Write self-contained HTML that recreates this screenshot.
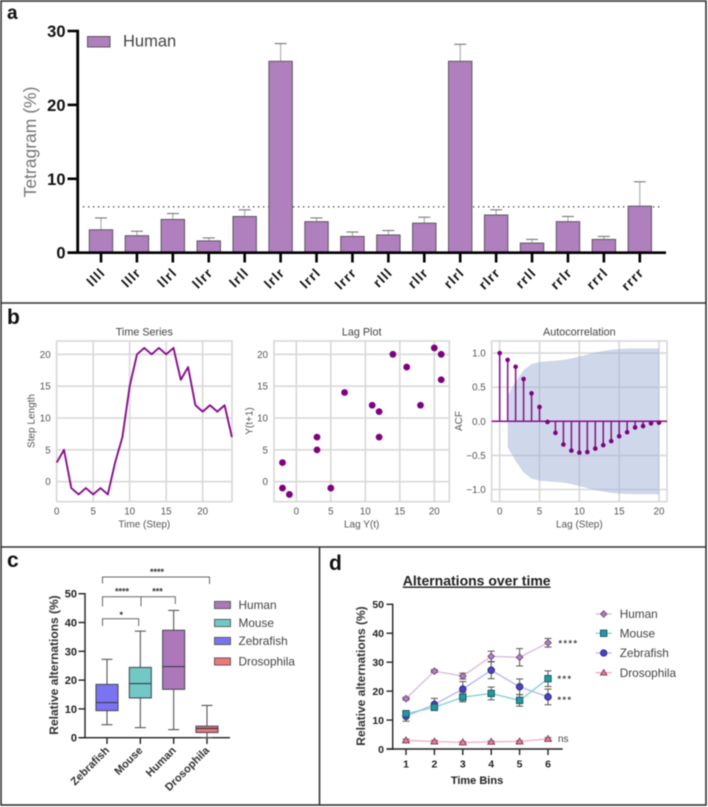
<!DOCTYPE html>
<html lang="en">
<head>
<meta charset="utf-8">
<title>Tetragram and alternation figure</title>
<style>
html,body{margin:0;padding:0;background:#fff;width:708px;height:807px;overflow:hidden}
svg{display:block;filter:blur(0.45px)}
text{font-family:"Liberation Sans",sans-serif}
</style>
</head>
<body>
<svg id="fig" width="708" height="807" viewBox="0 0 708 807" xmlns="http://www.w3.org/2000/svg">
  <rect x="0" y="0" width="708" height="807" fill="#fff"/>
  <g id="frames" stroke="#333" fill="none">
    <rect x="1" y="1" width="705" height="804" stroke-width="1.6"/>
    <line x1="1" y1="303" x2="706" y2="303" stroke-width="1.6"/>
    <line x1="1" y1="547" x2="706" y2="547" stroke-width="1.6"/>
    <line x1="319.5" y1="547" x2="319.5" y2="805" stroke-width="1.6"/>
  </g>
  <g id="letters" font-weight="700" fill="#111">
    <text x="7" y="19" font-size="19">a</text>
    <text x="7" y="324" font-size="21">b</text>
    <text x="7" y="567" font-size="21">c</text>
    <text x="329" y="570" font-size="21">d</text>
  </g>
  <g id="panelA"></g>
  <g id="panelB1"></g>
  <g id="panelB2"></g>
  <g id="panelB3"></g>
  <g id="panelC"></g>
  <g id="panelD"></g>
</svg>
<script>
/* Panel a data */
const tetraCategories = ['llll','lllr','llrl','llrr','lrll','lrlr','lrrl','lrrr','rlll','rllr','rlrl','rlrr','rrll','rrlr','rrrl','rrrr'];
const tetraValues = [3.1,2.3,4.5,1.6,4.9,25.9,4.2,2.2,2.4,4.0,25.9,5.1,1.3,4.2,1.8,6.3];
const tetraErrors = [1.6,0.6,0.8,0.4,0.9,2.4,0.5,0.6,0.6,0.8,2.3,0.7,0.5,0.7,0.4,3.3];
const tetraTicks = [0,10,20,30];
const chanceLevel = [6.2];

/* Panel b data */
const seriesSteps = [3,5,-1,-2,-1,-2,-1,-2,3,7,15,20,21,20,21,20,21,16,18,12,11,12,11,12,7];
const seriesXTicks = [0,5,10,15,20];
const seriesYTicks = [0,5,10,15,20];
const lagX = [-2,-2,-1,3,3,5,7,11,12,12,14,16,18,20,21,21];
const lagY = [3,-1,-2,7,5,-1,14,12,11,7,20,18,12,21,20,16];
const acfValues = [1.0,0.9,0.8,0.62,0.41,0.21,-0.01,-0.17,-0.34,-0.43,-0.46,-0.45,-0.4,-0.35,-0.29,-0.22,-0.16,-0.09,-0.07,-0.03,-0.02];
const acfBand = [0.38,0.58,0.75,0.84,0.87,0.88,0.89,0.9,0.92,0.95,0.98,1.01,1.03,1.05,1.06,1.065,1.07,1.07,1.07,1.07];
const acfXTicks = [0,5,10,15,20];
const acfYTicks = [-1,-0.5,0,0.5,1];

/* Panel c data */
const boxCategories = ['Zebrafish','Mouse','Human','Drosophila'];
const boxMin = [4.5,3.5,2.8,0];
const boxQ1 = [9.4,13.8,16.8,1.8];
const boxMedian = [12.2,18.8,24.7,3.2];
const boxQ3 = [18.5,24.4,37.3,4];
const boxMax = [27.2,37,44.2,11.2];
const boxFills = ['#7b74f2','#72c8c4','#ac78ba','#f0767c'];
const boxTicks = [0,10,20,30,40,50];
const boxLegend = ['Human','Mouse','Zebrafish','Drosophila'];
const boxLegendFills = ['#ac78ba','#72c8c4','#7b74f2','#f0767c'];

/* Panel d data */
const timeBins = [1,2,3,4,5,6];
const humanMeans = [17.4,26.9,25.2,32,31.7,36.7];
const humanErrors = [0.5,0.5,1,1.8,3,1.5];
const mouseMeans = [12.2,14.4,17.9,19.2,16.8,24.3];
const mouseErrors = [1,1,1.6,2.2,2,2.7];
const zebrafishMeans = [11.3,15.4,20.7,27.2,21.5,18];
const zebrafishErrors = [1.7,2.1,2.6,2.9,2.7,2.7];
const drosophilaMeans = [3,2.6,2.3,2.5,2.6,3.5];
const drosophilaErrors = [0.4,0.4,0.3,0.3,0.3,0.4];
const timeTicks = [0,10,20,30,40,50];

const NS = 'http://www.w3.org/2000/svg';
function mk(parent, tag, props, content) {
  const e = document.createElementNS(NS, tag);
  for (const k in props) e.setAttribute(k, props[k]);
  if (content !== undefined) e.textContent = content;
  parent.appendChild(e);
  return e;
}
function line(parent, x1, y1, x2, y2, stroke, w, extra) {
  return mk(parent, 'line', Object.assign({x1, y1, x2, y2, stroke, 'stroke-width': w}, extra || {}));
}

/* ---------- Panel a ---------- */
(function () {
  const g = document.getElementById('panelA');
  const x = i => 101 + i * 35.92;
  const y = v => 252.7 - v * 7.39;
  const refLine = line(g, 83, y(chanceLevel[0]), 660, y(chanceLevel[0]), '#333', 1.3, {'stroke-dasharray': '1.3 3.7'});
  
  
  tetraCategories.forEach((c, i) => {
    const err = line(g, x(i), y(tetraValues[i]), x(i), y(tetraValues[i] + tetraErrors[i]), '#aaa', 1.1);
    
    
    const cap = line(g, x(i) - 6, y(tetraValues[i] + tetraErrors[i]), x(i) + 6, y(tetraValues[i] + tetraErrors[i]), '#777', 1.1);
    
    
    const bar = mk(g, 'rect', {x: x(i) - 11.7, y: y(tetraValues[i]), width: 23.4, height: y(0) - y(tetraValues[i]), fill: '#b07fbe', stroke: '#5c5560', 'stroke-width': 1});
    
    
    const tick = line(g, x(i), y(0), x(i), 262.5, '#000', 2.6);
    
    
    const lab = mk(g, 'text', {x: 0, y: 0, transform: `translate(${x(i) + 5},${273.5}) rotate(-45)`, 'text-anchor': 'end', 'font-size': 13.5, 'font-weight': 700, 'letter-spacing': 1.1, fill: '#111'}, c);
    
    
  });
  const yAxis = line(g, 77.7, y(30) - 1.3, 77.7, y(0) + 1.3, '#000', 2.8);
  
  
  const xAxis = line(g, 67.5, y(0), 666, y(0), '#000', 2.6);
  
  
  tetraTicks.forEach(t => {
    const tk = line(g, 67.5, y(t), 77.7, y(t), '#000', 2.6);
    
    
    const lb = mk(g, 'text', {x: 65.5, y: y(t) + 6, 'text-anchor': 'end', 'font-size': 16.5, 'font-weight': 700, fill: '#111'}, t);
    
    
  });
  const title = mk(g, 'text', {x: 0, y: 0, transform: 'translate(36,142) rotate(-90)', 'text-anchor': 'middle', 'font-size': 17.5, fill: '#777'}, 'Tetragram (%)');
  
  
  const sw = mk(g, 'rect', {x: 87.5, y: 36.5, width: 22.5, height: 10.5, fill: '#b07fbe', stroke: '#5c5560', 'stroke-width': 1});
  
  
  const lt = mk(g, 'text', {x: 123, y: 46.5, 'font-size': 16.5, fill: '#444'}, 'Human');
  
  
})();

/* ---------- Panel b shared frame ---------- */
function seabornAxes(g, o) {
  const frame = mk(g, 'rect', {x: o.left, y: 341, width: o.right - o.left, height: 160.7, fill: '#fff', stroke: '#d8d8d8', 'stroke-width': 1.6});
  
  
  o.xTicks.forEach(t => {
    const gl = line(g, o.x(t), 341, o.x(t), 501.7, '#d8d8d8', 1.6);
    
    
    const lb = mk(g, 'text', {x: o.x(t), y: 514.5, 'text-anchor': 'middle', 'font-size': 9.8, fill: '#555'}, t);
    
    
  });
  o.yTicks.forEach(t => {
    const gl = line(g, o.left, o.y(t), o.right, o.y(t), '#d8d8d8', 1.6);
    
    
    const txt = o.yFormat ? o.yFormat(t) : String(t);
    const lb = mk(g, 'text', {x: o.left - 6, y: o.y(t) + 3.5, 'text-anchor': 'end', 'font-size': 9.8, fill: '#555'}, txt);
    
    
  });
  const ti = mk(g, 'text', {x: (o.left + o.right) / 2, y: 335.5, 'text-anchor': 'middle', 'font-size': 10.8, fill: '#444'}, o.title);
  
  
  const xt = mk(g, 'text', {x: (o.left + o.right) / 2, y: 527.5, 'text-anchor': 'middle', 'font-size': 10, fill: '#555'}, o.xLabel);
  
  
  const yt = mk(g, 'text', {x: 0, y: 0, transform: `translate(${o.yLabelX},421) rotate(-90)`, 'text-anchor': 'middle', 'font-size': 10, fill: '#555'}, o.yLabel);
  
  
}

/* Time series */
(function () {
  const g = document.getElementById('panelB1');
  const x = v => 56.7 + v * 7.3;
  const y = v => 481.7 - v * 6.37;
  seabornAxes(g, {left: 56.7, right: 232, x, y, xTicks: seriesXTicks, yTicks: seriesYTicks, title: 'Time Series', xLabel: 'Time (Step)', yLabel: 'Step Length', yLabelX: 34.5});
  const pts = seriesSteps.map((v, i) => x(i) + ',' + y(v)).join(' ');
  const l = mk(g, 'polyline', {points: pts, fill: 'none', stroke: '#880e8e', 'stroke-width': 1.9, 'stroke-linejoin': 'round'});
  
  
})();

/* Lag plot */
(function () {
  const g = document.getElementById('panelB2');
  const x = v => 296.3 + v * 6.9;
  const y = v => 481.7 - v * 6.37;
  seabornAxes(g, {left: 274, right: 449.3, x, y, xTicks: seriesXTicks, yTicks: seriesYTicks, title: 'Lag Plot', xLabel: 'Lag Y(t)', yLabel: 'Y(t+1)', yLabelX: 252.5});
  lagX.forEach((v, i) => {
    const c = mk(g, 'circle', {cx: x(v), cy: y(lagY[i]), r: 3.4, fill: '#800080'});
    
    
  });
})();

/* Autocorrelation */
(function () {
  const g = document.getElementById('panelB3');
  const x = v => 499.7 + v * 7.965;
  const y = v => 421.3 - v * 68.2;
  seabornAxes(g, {left: 491.7, right: 667, x, y, xTicks: acfXTicks, yTicks: acfYTicks, title: 'Autocorrelation', xLabel: 'Lag (Step)', yLabel: 'ACF', yLabelX: 462,
    yFormat: t => (t < 0 ? '\u2212' : '') + Math.abs(t).toFixed(1)});
  const up = acfBand.map((v, i) => x(i + 1) + ',' + y(v));
  const dn = acfBand.map((v, i) => x(i + 1) + ',' + y(-v)).reverse();
  const band = mk(g, 'polygon', {points: up.concat(dn).join(' '), fill: '#9db2d6', 'fill-opacity': 0.5, stroke: 'none'});
  
  
  const base = line(g, 491.7, y(0), 667, y(0), '#880e8e', 1.5);
  
  
  acfValues.forEach((v, i) => {
    const s = line(g, x(i), y(0), x(i), y(v), '#880e8e', 1.5);
    
    
    const c = mk(g, 'circle', {cx: x(i), cy: y(v), r: 2.3, fill: '#800080'});
    
    
  });
})();

/* ---------- Panel c ---------- */
(function () {
  const g = document.getElementById('panelC');
  const x = i => 107 + i * 33.33;
  const y = v => 737.7 - v * 2.88;
  const yAxis = line(g, 85, y(50) - 0.7, 85, y(0) + 0.7, '#222', 1.4);
  
  
  const xAxis = line(g, 78.5, y(0), 230, y(0), '#222', 1.4);
  
  
  boxTicks.forEach(t => {
    const tk = line(g, 78.5, y(t), 85, y(t), '#222', 1.4);
    
    
    const lb = mk(g, 'text', {x: 77, y: y(t) + 4, 'text-anchor': 'end', 'font-size': 11, 'font-weight': 700, fill: '#222'}, t);
    
    
  });
  const title = mk(g, 'text', {x: 0, y: 0, transform: 'translate(58,665) rotate(-90)', 'text-anchor': 'middle', 'font-size': 12, 'font-weight': 700, fill: '#333'}, 'Relative alternations (%)');
  
  
  boxCategories.forEach((c, i) => {
    const tk = line(g, x(i), y(0), x(i), 744, '#222', 1.4);
    
    
    const wh = line(g, x(i), y(boxMin[i]), x(i), y(boxMax[i]), '#555', 1.1);
    
    
    const capL = line(g, x(i) - 5.5, y(boxMin[i]), x(i) + 5.5, y(boxMin[i]), '#555', 1.1);
    
    
    const capH = line(g, x(i) - 5.5, y(boxMax[i]), x(i) + 5.5, y(boxMax[i]), '#555', 1.1);
    
    
    const box = mk(g, 'rect', {x: x(i) - 11, y: y(boxQ3[i]), width: 22, height: y(boxQ1[i]) - y(boxQ3[i]), fill: boxFills[i], stroke: '#4c4c5c', 'stroke-width': 1.1});
    
    
    const med = line(g, x(i) - 11, y(boxMedian[i]), x(i) + 11, y(boxMedian[i]), '#3c3c4c', 1.2);
    
    
    const lb = mk(g, 'text', {x: 0, y: 0, transform: `translate(${x(i) + 3},${751}) rotate(-45)`, 'text-anchor': 'end', 'font-size': 11, 'font-weight': 700, fill: '#333'}, c);
    
    
  });
  const bracketTop = mk(g, 'polyline', {points: '102.5,583.5 102.5,577 209.5,577 209.5,584', fill: 'none', stroke: '#666', 'stroke-width': 1});
  
  
  const bracketMid = mk(g, 'polyline', {points: '102.5,606.5 102.5,596.7 175.3,596.7 175.3,604', fill: 'none', stroke: '#666', 'stroke-width': 1});
  
  
  const bracketMidStem = line(g, 141, 596.7, 141, 606.5, '#666', 1);
  
  
  const bracketLow = mk(g, 'polyline', {points: '102.5,626 102.5,618.7 138.7,618.7 138.7,626', fill: 'none', stroke: '#666', 'stroke-width': 1});
  
  
  const s1 = mk(g, 'text', {x: 157, y: 575, 'text-anchor': 'middle', 'font-size': 9, 'font-weight': 700, fill: '#333'}, '****');
  
  
  const s2 = mk(g, 'text', {x: 122, y: 594.5, 'text-anchor': 'middle', 'font-size': 9, 'font-weight': 700, fill: '#333'}, '****');
  
  
  const s3 = mk(g, 'text', {x: 157.5, y: 594.5, 'text-anchor': 'middle', 'font-size': 9, 'font-weight': 700, fill: '#333'}, '***');
  
  
  const s4 = mk(g, 'text', {x: 121.3, y: 618, 'text-anchor': 'middle', 'font-size': 9, 'font-weight': 700, fill: '#333'}, '*');
  
  
  boxLegend.forEach((n, i) => {
    const cy = [605, 623, 641, 661.5][i];
    const sw = mk(g, 'rect', {x: 214.5, y: cy - 3.6, width: 16, height: 7.2, fill: boxLegendFills[i], stroke: '#555', 'stroke-width': 0.9});
    
    
    const lb = mk(g, 'text', {x: 238.5, y: cy + 4.2, 'font-size': 11.8, fill: '#444'}, n);
    
    
  });
})();

/* ---------- Panel d ---------- */
(function () {
  const g = document.getElementById('panelD');
  const x = v => 406 + (v - 1) * 28.4;
  const y = v => 749 - v * 2.894;
  const title = mk(g, 'text', {x: 476.7, y: 585.5, 'text-anchor': 'middle', 'font-size': 14, 'font-weight': 700, fill: '#222', 'text-decoration': 'underline'}, 'Alternations over time');
  
  
  const yAxis = line(g, 392.7, y(50) - 0.7, 392.7, y(0) + 0.7, '#222', 1.4);
  
  
  const xAxis = line(g, 386.5, y(0), 562.7, y(0), '#222', 1.4);
  
  
  timeTicks.forEach(t => {
    const tk = line(g, 386.5, y(t), 392.7, y(t), '#222', 1.4);
    
    
    const lb = mk(g, 'text', {x: 384, y: y(t) + 3.8, 'text-anchor': 'end', 'font-size': 10.5, 'font-weight': 700, fill: '#222'}, t);
    
    
  });
  timeBins.forEach(t => {
    const tk = line(g, x(t), y(0), x(t), 755, '#222', 1.4);
    
    
    const lb = mk(g, 'text', {x: x(t), y: 767.5, 'text-anchor': 'middle', 'font-size': 10.5, 'font-weight': 700, fill: '#222'}, t);
    
    
  });
  const yt = mk(g, 'text', {x: 0, y: 0, transform: 'translate(365,676) rotate(-90)', 'text-anchor': 'middle', 'font-size': 12, 'font-weight': 700, fill: '#333'}, 'Relative alternations (%)');
  
  
  const xt = mk(g, 'text', {x: 477, y: 784, 'text-anchor': 'middle', 'font-size': 11, 'font-weight': 700, fill: '#222'}, 'Time Bins');
  
  

  function marker(cx, cy, shape, fill, edge, size) {
    if (shape === 'circle') return mk(g, 'circle', {cx, cy, r: size, fill, stroke: edge, 'stroke-width': 0.9});
    if (shape === 'square') return mk(g, 'rect', {x: cx - size, y: cy - size, width: 2 * size, height: 2 * size, fill, stroke: edge, 'stroke-width': 0.9});
    if (shape === 'diamond') return mk(g, 'polygon', {points: `${cx},${cy - size} ${cx + size},${cy} ${cx},${cy + size} ${cx - size},${cy}`, fill, stroke: edge, 'stroke-width': 0.9});
    return mk(g, 'polygon', {points: `${cx},${cy - size} ${cx + size},${cy + size * 0.75} ${cx - size},${cy + size * 0.75}`, fill, stroke: edge, 'stroke-width': 0.9});
  }
  function drawSeries(name, means, errs, col, fill, edge, shape, size) {
    means.forEach((m, i) => {
      const xx = x(timeBins[i]);
      const e = line(g, xx, y(m - errs[i]), xx, y(m + errs[i]), '#555', 1);
      
      
      const c1 = line(g, xx - 3.5, y(m + errs[i]), xx + 3.5, y(m + errs[i]), '#555', 1);
      
      
      const c2 = line(g, xx - 3.5, y(m - errs[i]), xx + 3.5, y(m - errs[i]), '#555', 1);
      
      
    });
    const pl = mk(g, 'polyline', {points: means.map((m, i) => x(timeBins[i]) + ',' + y(m)).join(' '), fill: 'none', stroke: col, 'stroke-width': 1.3});
    
    
    means.forEach((m, i) => {
      const mm = marker(x(timeBins[i]), y(m), shape, fill, edge, size);
      
      
    });
  }
  drawSeries('human', humanMeans, humanErrors, '#d7b8de', '#b57fc0', '#6a4a78', 'diamond', 3.3);
  drawSeries('zebrafish', zebrafishMeans, zebrafishErrors, '#b6b4f0', '#4a42c8', '#2d2a70', 'circle', 3.3);
  drawSeries('mouse', mouseMeans, mouseErrors, '#7ed2d2', '#1f9aa6', '#1d4f5c', 'square', 3.2);
  drawSeries('drosophila', drosophilaMeans, drosophilaErrors, '#f6abbb', '#ee7aa2', '#7a3a55', 'triangle', 3.4);

  const legend = [['Human', 614, '#d7b8de', '#b57fc0', '#6a4a78', 'diamond'], ['Mouse', 633.3, '#7ed2d2', '#1f9aa6', '#1d4f5c', 'square'], ['Zebrafish', 653, '#b6b4f0', '#4a42c8', '#2d2a70', 'circle'], ['Drosophila', 672.7, '#f6abbb', '#ee7aa2', '#7a3a55', 'triangle']];
  legend.forEach(r => {
    const l = line(g, 595.7, r[1], 611.7, r[1], r[2], 1.3);
    
    
    const m = marker(603.7, r[1], r[5], r[3], r[4], 3.2);
    
    
    const t = mk(g, 'text', {x: 619.7, y: r[1] + 4.2, 'font-size': 11.8, fill: '#444'}, r[0]);
    
    
  });
  const sig = [['****', 558.5, 646.5, 'human'], ['***', 557.5, 682, 'mouse'], ['***', 557.5, 703, 'zebrafish'], ['ns', 558, 742, 'drosophila']];
  sig.forEach(s => {
    const isNs = s[0] === 'ns';
    const t = mk(g, 'text', {x: s[1], y: s[2], 'font-size': isNs ? 10 : 9, 'font-weight': isNs ? 400 : 700, 'letter-spacing': isNs ? 0 : 1.5, fill: '#444'}, s[0]);
    
    
  });
})();
</script>
</body>
</html>
